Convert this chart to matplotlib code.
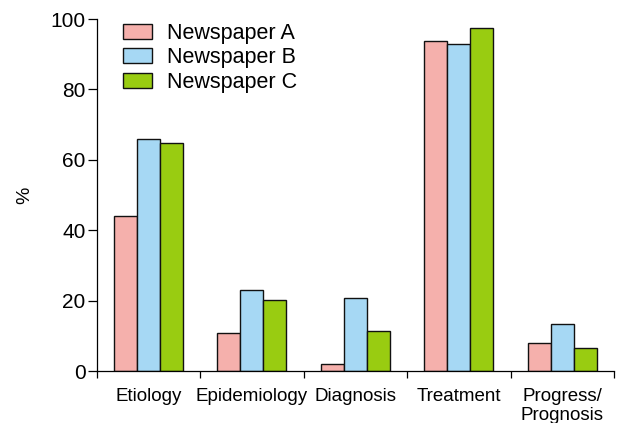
import numpy as np
import matplotlib.pyplot as plt

plt.rcParams['font.family'] = ['Liberation Sans', 'DejaVu Sans']

categories = ['Etiology', 'Epidemiology', 'Diagnosis', 'Treatment', 'Progress/\nPrognosis']
series = ['Newspaper A', 'Newspaper B', 'Newspaper C']
paper_a = [44.0, 10.7, 2.1, 93.8, 8.0]
paper_b = [65.8, 22.9, 20.6, 93.0, 13.3]
paper_c = [64.7, 20.3, 11.3, 97.4, 6.6]
colors = ['#F5B0AC', '#A6D8F4', '#99CC11']

fig = plt.figure(figsize=(6.17, 4.23), dpi=100)
ax = fig.add_axes([96.5 / 617, 1 - 371 / 423, (614 - 96.5) / 617, (371 - 19) / 423])

# R-style beside barplot: bar width 1, gap of 1.5 between groups
n = len(categories)
starts = 1.5 + 4.5 * np.arange(n)
for j, (vals, lab, col) in enumerate(zip([paper_a, paper_b, paper_c], series, colors)):
    ax.bar(starts + j, vals, width=1, align='edge', color=col,
           edgecolor='#111111', linewidth=1.0, label=lab)

ax.set_xlim(0.75, 0.75 + 4.5 * n)
ax.set_ylim(0, 100)

ax.spines['top'].set_visible(False)
ax.spines['right'].set_visible(False)
for s in ['left', 'bottom']:
    ax.spines[s].set_linewidth(0.9)

ax.set_yticks([0, 20, 40, 60, 80, 100])
ax.tick_params(axis='y', direction='out', length=6.5, width=0.9, labelsize=15, pad=1.5)

# ticks between groups, labels centred under each group
ax.set_xticks(0.75 + 4.5 * np.arange(n + 1))
ax.set_xticklabels([])
ax.tick_params(axis='x', direction='out', length=5, width=0.9)
for x, c in zip(starts + 1.5, categories):
    ax.text(x, -4.9, c, ha='center', va='top', fontsize=13.5, linespacing=1.15)

fig.text(25 / 617, 1 - 195 / 423, '%', rotation=90, ha='center', va='center', fontsize=14)

ax.legend(loc='upper left', bbox_to_anchor=(123 / 617, 1 - 23 / 423),
          bbox_transform=fig.transFigure, frameon=False, fontsize=15.5,
          handlelength=1.35, handleheight=0.7, handletextpad=0.7,
          labelspacing=0.16, borderpad=0, borderaxespad=0)

fig.savefig('out.png', dpi=100)
